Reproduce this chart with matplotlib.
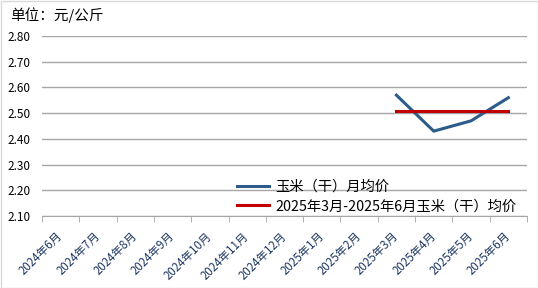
import matplotlib
matplotlib.use("Agg")
import matplotlib.pyplot as plt
import numpy as np

plt.rcParams['font.family'] = ['Noto Sans CJK SC', 'DejaVu Sans']

months = ["2024年6月", "2024年7月", "2024年8月", "2024年9月", "2024年10月", "2024年11月",
          "2024年12月", "2025年1月", "2025年2月", "2025年3月", "2025年4月", "2025年5月", "2025年6月"]
monthly = [None, None, None, None, None, None, None, None, None, 2.57, 2.43, 2.47, 2.56]
avg_value = 2.51
avg_months = ["2025年3月", "2025年4月", "2025年5月", "2025年6月"]
yticks = [2.10, 2.20, 2.30, 2.40, 2.50, 2.60, 2.70, 2.80]

fig = plt.figure(figsize=(5.38, 2.88), dpi=100)
fig.patch.set_facecolor('white')
ax = fig.add_axes([42/538, 1-216/288, (527-42)/538, (216-36)/288])

x = np.arange(len(months))
xs = [i for i, v in enumerate(monthly) if v is not None]
ys = [monthly[i] for i in xs]
l1, = ax.plot(xs, ys, color='#2B5C8A', lw=2.2, label='玉米（干）月均价', zorder=3)
ax_idx = [months.index(m) for m in avg_months]
l2, = ax.plot(ax_idx, [avg_value]*len(ax_idx), color='#C00000', lw=2.2,
              label='2025年3月-2025年6月玉米（干）均价', zorder=4)

ax.set_xlim(-0.5, len(months)-0.5)
ax.set_ylim(2.10, 2.80)
ax.set_yticks(yticks)
ax.set_yticklabels([f"{v:.2f}" for v in yticks], fontsize=8.5)
ax.yaxis.grid(True, color='#A6A6A6', lw=1)
ax.set_axisbelow(True)
for s in ['top', 'right', 'left']:
    ax.spines[s].set_visible(False)
ax.spines['bottom'].set_color('#A6A6A6')
ax.tick_params(axis='y', length=0, pad=8)

ax.set_xticks(x)
ax.set_xticklabels(months, rotation=45, ha='right', va='center', rotation_mode='anchor',
                   fontsize=8.3, color='#1F3864')
ax.tick_params(axis='x', length=0, pad=13)
ax.set_xticks(np.arange(len(months)+1)-0.5, minor=True)
ax.tick_params(axis='x', which='minor', length=4, color='#A6A6A6')

fig.text(10/538, 1-15/288, '单位：元/公斤', fontsize=10.5, va='center', ha='left')

fig.legend(handles=[l1, l2], loc='upper left', bbox_to_anchor=(228/538, 1-171/288),
           frameon=False, fontsize=10.3, handlelength=2.3, handletextpad=0.4,
           labelspacing=0.4, borderpad=0.1)

border = plt.Rectangle((0.5/538, 0.5/288), 1-1/538, 1-1/288, transform=fig.transFigure,
                       fill=False, edgecolor='#D9D9D9', lw=1)
fig.add_artist(border)

fig.savefig('out.png', dpi=100)
